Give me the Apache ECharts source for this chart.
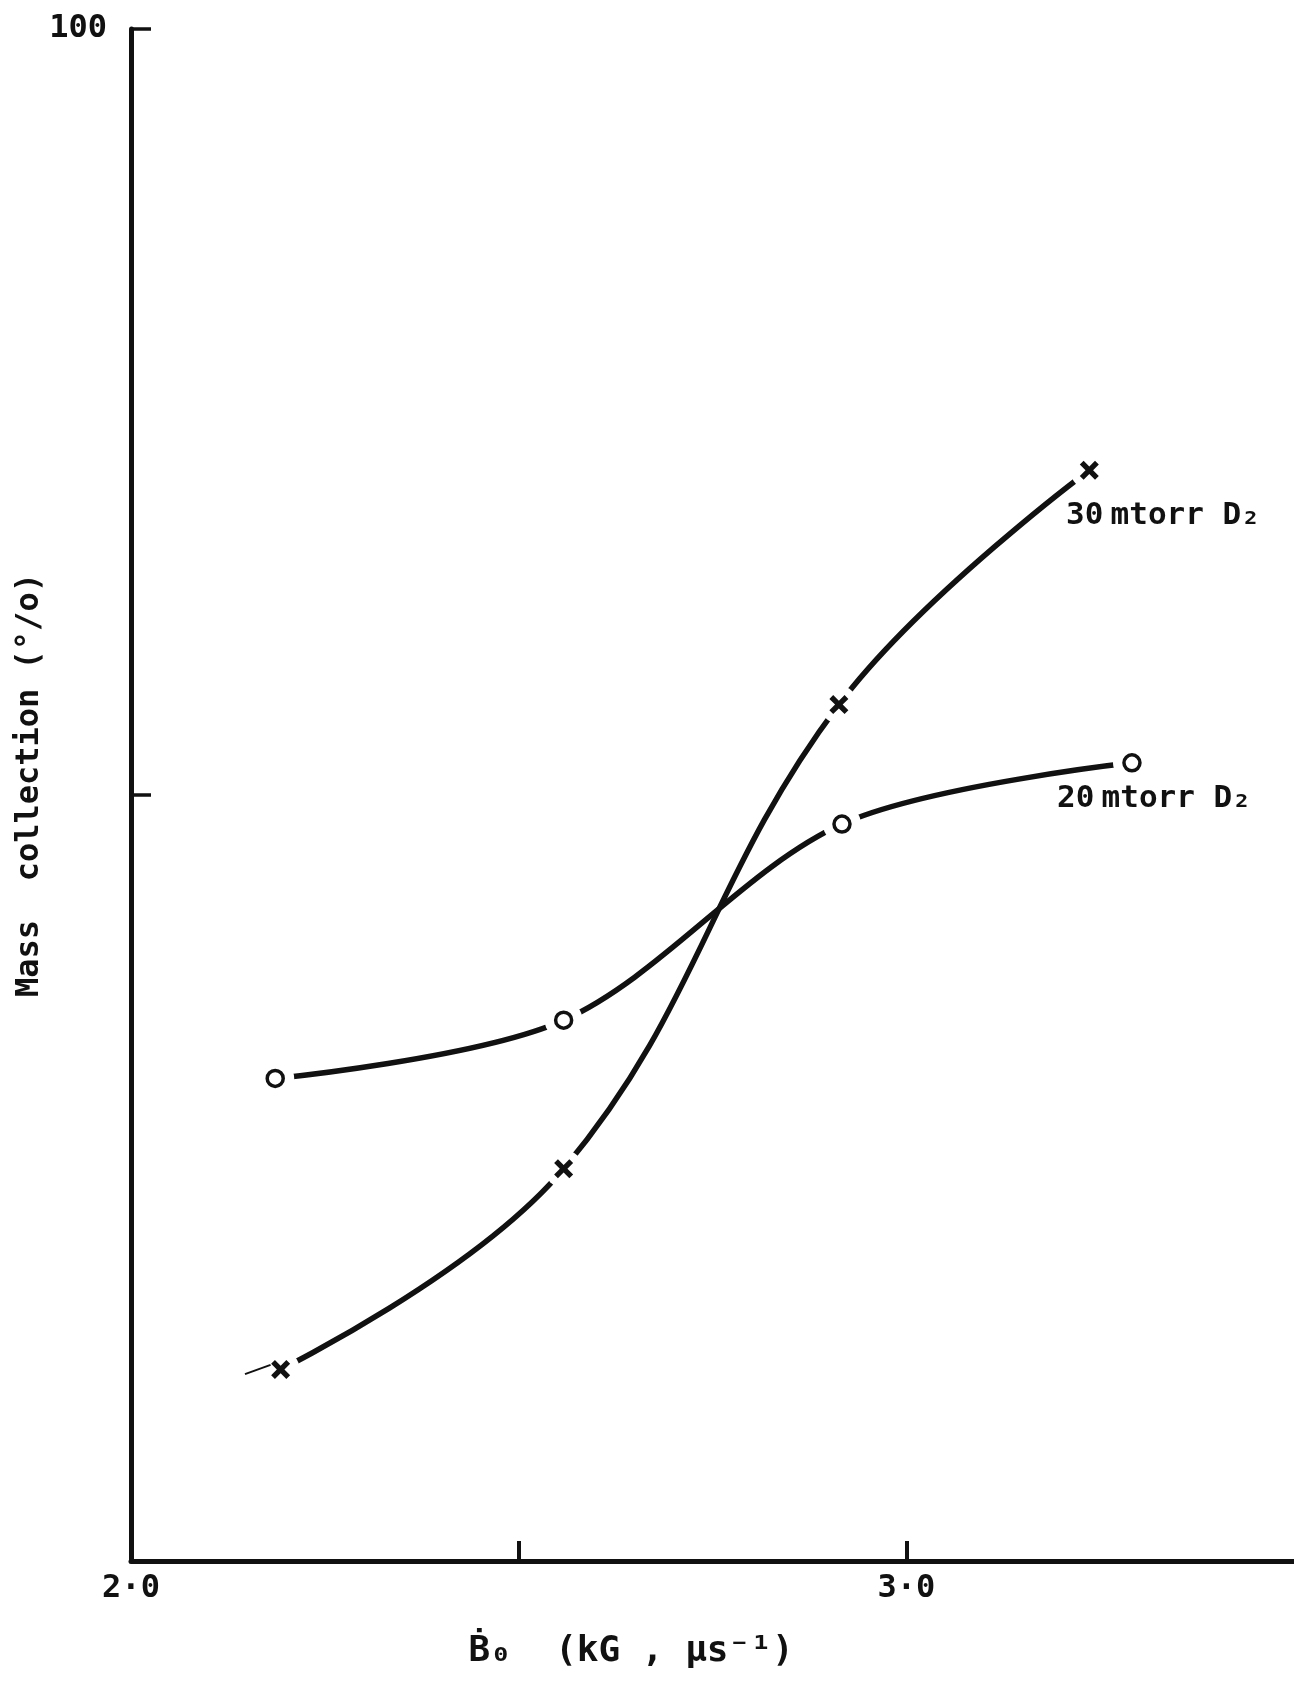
<!DOCTYPE html>
<html>
<head>
<meta charset="utf-8">
<script src="https://cdn.jsdelivr.net/npm/echarts@6/dist/echarts.min.js"></script>
<style>
  html, body { margin: 0; padding: 0; background: #ffffff; }
  #chart { width: 1294px; height: 1683px; }
</style>
</head>
<body>
<div id="chart"></div>
<script>
// Rate of rise of the field, Ḃ0 (kG/µs), at each measurement
const bDot20 = [2.186, 2.558, 2.917, 3.291];
const bDot30 = [2.193, 2.558, 2.913, 3.236];
// Mass collection (%) at each measurement
const mass20 = [31.5, 35.3, 48.1, 52.1];
const mass30 = [12.5, 25.6, 55.9, 71.2];
// Short extrapolated stub drawn below the first 30 mtorr point
const tail30X = [2.147, 2.180];
const tail30Y = [12.2, 12.8];

// Axis ticks and labels
const xTickValues = [2.5, 3.0];
const xLabelValues = [2.0, 3.0];
const xLabelText = ['2·0', '3·0'];
const yTickValues = [50, 100];
const yLabelValues = [100];
const yLabelText = ['100'];

const INK = '#111111';
const FONT = "'DejaVu Sans Mono', 'DejaVu Sans', monospace";

const zip = (xs, ys) => xs.map((x, i) => [x, ys[i]]);
const pts20 = zip(bDot20, mass20);
const pts30 = zip(bDot30, mass30);

// filled diagonal cross used for the 30 mtorr points
const crossPath = 'path://M0,2 L2,0 L5,3 L8,0 L10,2 L7,5 L10,8 L8,10 L5,7 L2,10 L0,8 L3,5 Z';

const chart = echarts.init(document.getElementById('chart'), null, { renderer: 'canvas' });

const labelRich = {
  sp: { fontFamily: FONT, fontSize: 12, fontWeight: 'bold', color: INK }
};

chart.setOption({
  backgroundColor: '#ffffff',
  animation: false,
  textStyle: { fontFamily: FONT, color: INK },
  grid: { left: 131, right: 0, top: 29, bottom: 122, containLabel: false, outerBoundsMode: 'none' },
  xAxis: {
    type: 'value',
    min: 2.0,
    max: 3.5,
    interval: 0.5,
    splitLine: { show: false },
    axisLine: { show: true, lineStyle: { color: INK, width: 5 } },
    axisTick: { show: true, inside: true, length: 20, customValues: xTickValues,
                lineStyle: { color: INK, width: 4 } },
    axisLabel: {
      show: true, margin: 12, customValues: xLabelValues,
      fontFamily: FONT, fontSize: 32, fontWeight: 'bold', color: INK,
      formatter: v => {
        const i = xLabelValues.findIndex(t => Math.abs(t - v) < 1e-9);
        return i >= 0 ? xLabelText[i] : '';
      }
    }
  },
  yAxis: {
    type: 'value',
    min: 0,
    max: 100,
    interval: 50,
    splitLine: { show: false },
    axisLine: { show: true, lineStyle: { color: INK, width: 5 } },
    axisTick: { show: true, inside: true, length: 20, customValues: yTickValues,
                lineStyle: { color: INK, width: 3.5 } },
    axisLabel: {
      show: true, margin: 24, customValues: yLabelValues,
      fontFamily: FONT, fontSize: 32, fontWeight: 'bold', color: INK,
      formatter: v => {
        const i = yLabelValues.findIndex(t => Math.abs(t - v) < 1e-9);
        return i >= 0 ? yLabelText[i] : '';
      }
    }
  },
  series: [
    {
      name: '20 mtorr D₂', type: 'line', data: pts20, smooth: 0.32,
      showSymbol: false, z: 2, silent: true,
      lineStyle: { color: INK, width: 5.5, cap: 'round' }
    },
    {
      name: '30 mtorr D₂', type: 'line', data: pts30, smooth: 0.4,
      showSymbol: false, z: 2, silent: true,
      lineStyle: { color: INK, width: 5.5, cap: 'round' }
    },
    {
      // white clearance around each plotted point, leaving the usual gap in the pen line
      type: 'scatter', data: pts20.concat(pts30), symbol: 'circle', symbolSize: 38,
      itemStyle: { color: '#ffffff', opacity: 1 }, z: 3, silent: true
    },
    {
      type: 'line', data: zip(tail30X, tail30Y), showSymbol: false, z: 4, silent: true,
      lineStyle: { color: INK, width: 2 }
    },
    {
      name: '20 mtorr points', type: 'scatter', data: pts20, symbol: 'circle', symbolSize: 16,
      itemStyle: { color: '#ffffff', borderColor: INK, borderWidth: 3.5, opacity: 1 }, z: 5
    },
    {
      name: '30 mtorr points', type: 'scatter', data: pts30, symbol: crossPath, symbolSize: 19,
      itemStyle: { color: INK, opacity: 1 }, z: 5
    }
  ],
  graphic: [
    {
      type: 'text', x: 30, y: 785, rotation: Math.PI / 2,
      style: { text: 'Mass  collection (°/o)', font: `bold 32px ${FONT}`, fill: INK,
               textAlign: 'center', textVerticalAlign: 'middle' }
    },
    {
      type: 'text', x: 631, y: 1652,
      style: { text: 'Ḃ₀  (kG , μs⁻¹)', font: `bold 36px ${FONT}`, fill: INK,
               textAlign: 'center', textVerticalAlign: 'middle' }
    },
    {
      type: 'text', x: 1066, y: 516,
      style: { text: '30{sp| }mtorr D₂', font: `bold 31px ${FONT}`, fill: INK, rich: labelRich,
               textAlign: 'left', textVerticalAlign: 'middle' }
    },
    {
      type: 'text', x: 1057, y: 799,
      style: { text: '20{sp| }mtorr D₂', font: `bold 31px ${FONT}`, fill: INK, rich: labelRich,
               textAlign: 'left', textVerticalAlign: 'middle' }
    }
  ]
});
</script>
</body>
</html>
